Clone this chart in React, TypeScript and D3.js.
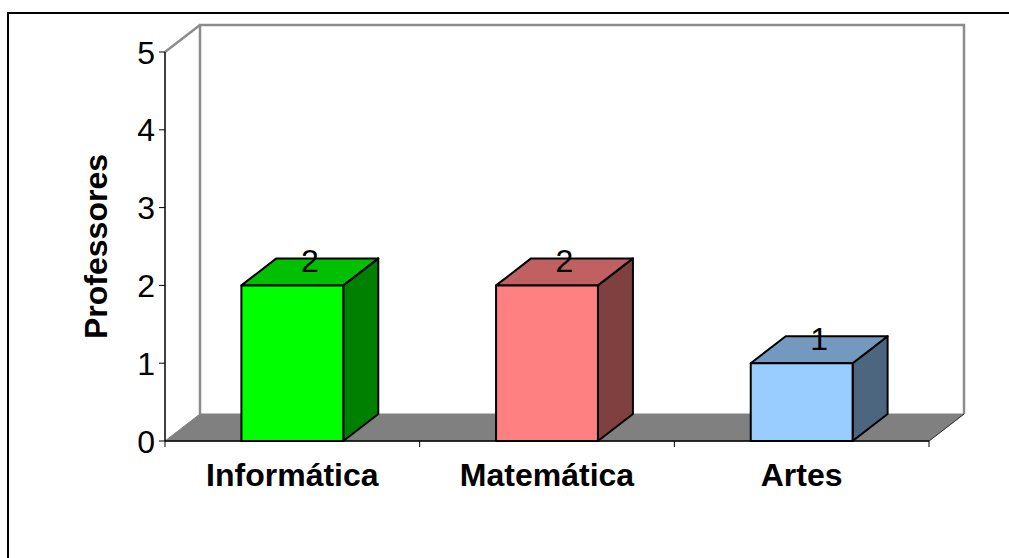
import React from "react";
import * as d3 from "d3";

const categories = ["Informática", "Matemática", "Artes"];
const values = [2, 2, 1];
const frontColors = ["#00FF00", "#FF8080", "#99CCFF"];
const sideColors = ["#008000", "#804040", "#4D6680"];
const topColors = ["#00C000", "#C06060", "#7399BF"];
const yTicks = [0, 1, 2, 3, 4, 5];
const yTitle = "Professores";

const W = 1009;
const H = 558;
const X0 = 165;
const X1 = 929;
const DX = 35;
const DY = -27;

export default function App() {
  const x = d3
    .scaleBand<string>()
    .domain(categories)
    .range([X0, X1])
    .paddingInner(0.6)
    .paddingOuter(0.3);
  const y = d3.scaleLinear().domain([0, 5]).range([441, 52]);
  const y0 = y(0);
  const yTop = y(5);
  const bw = x.bandwidth();
  const step = x.step();
  const pts = (a: [number, number][]) => a.map((p) => p.join(",")).join(" ");
  const font = "'Liberation Sans', Arial, sans-serif";
  const boundaries = d3.range(categories.length + 1).map((i) => X0 + i * step);

  return (
    <svg
      width={W}
      height={H}
      style={{ position: "absolute", left: 0, top: 0, background: "#fff" }}
      fontFamily={font}
    >
      {/* chart area frame */}
      <rect x={8} y={13} width={1100} height={700} fill="#fff" stroke="#000" strokeWidth={2} />

      {/* floor */}
      <polygon
        points={pts([
          [X0, y0],
          [X0 + DX, y0 + DY],
          [X1 + DX, y0 + DY],
          [X1, y0],
        ])}
        fill="#808080"
        stroke="#808080"
        strokeWidth={1}
      />
      {/* walls */}
      <g fill="none" stroke="#8C8C8C" strokeWidth={2.5}>
        <polyline
          points={pts([
            [X0 + DX, y0 + DY],
            [X0 + DX, yTop + DY],
            [X1 + DX, yTop + DY],
            [X1 + DX, y0 + DY],
          ])}
        />
        <line x1={X0} y1={yTop} x2={X0 + DX} y2={yTop + DY} />
      </g>
      <line x1={X1} y1={y0} x2={X1 + DX} y2={y0 + DY} stroke="#333" strokeWidth={1} />

      {/* value axis */}
      <line x1={X0} y1={yTop} x2={X0} y2={y0} stroke="#000" strokeWidth={1.5} />
      {yTicks.map((t) => (
        <g key={t}>
          <line x1={X0 - 6} x2={X0} y1={y(t)} y2={y(t)} stroke="#000" strokeWidth={1} />
          <text x={155} y={y(t) + 11.5} textAnchor="end" fontSize={32} fill="#000">
            {t}
          </text>
        </g>
      ))}
      <text
        transform={`translate(107,${(y0 + yTop) / 2}) rotate(-90)`}
        textAnchor="middle"
        fontSize={32}
        fontWeight="bold"
        fill="#000"
      >
        {yTitle}
      </text>

      {/* category axis */}
      <line x1={X0} y1={y0} x2={X1} y2={y0} stroke="#000" strokeWidth={1.5} />
      {boundaries.map((b, i) => (
        <line key={i} x1={b} x2={b} y1={y0} y2={y0 + 6} stroke="#000" strokeWidth={1} />
      ))}

      {/* bars */}
      {categories.map((c, i) => {
        const bx = x(c)!;
        const by = y(values[i]);
        return (
          <g key={c} stroke="#000" strokeWidth={2} strokeLinejoin="round">
            <polygon
              points={pts([
                [bx + bw, by],
                [bx + bw + DX, by + DY],
                [bx + bw + DX, y0 + DY],
                [bx + bw, y0],
              ])}
              fill={sideColors[i]}
            />
            <polygon
              points={pts([
                [bx, by],
                [bx + DX, by + DY],
                [bx + bw + DX, by + DY],
                [bx + bw, by],
              ])}
              fill={topColors[i]}
            />
            <rect x={bx} y={by} width={bw} height={y0 - by} fill={frontColors[i]} />
          </g>
        );
      })}

      {/* value labels */}
      {categories.map((c, i) => (
        <text
          key={c}
          x={x(c)! + bw / 2 + DX / 2}
          y={y(values[i]) + DY / 2}
          textAnchor="middle"
          fontSize={32}
          fill="#000"
        >
          {values[i]}
        </text>
      ))}

      {/* category labels */}
      {categories.map((c) => (
        <text
          key={c}
          x={x(c)! + bw / 2}
          y={486}
          textAnchor="middle"
          fontSize={32}
          fontWeight="bold"
          fill="#000"
        >
          {c}
        </text>
      ))}
    </svg>
  );
}
